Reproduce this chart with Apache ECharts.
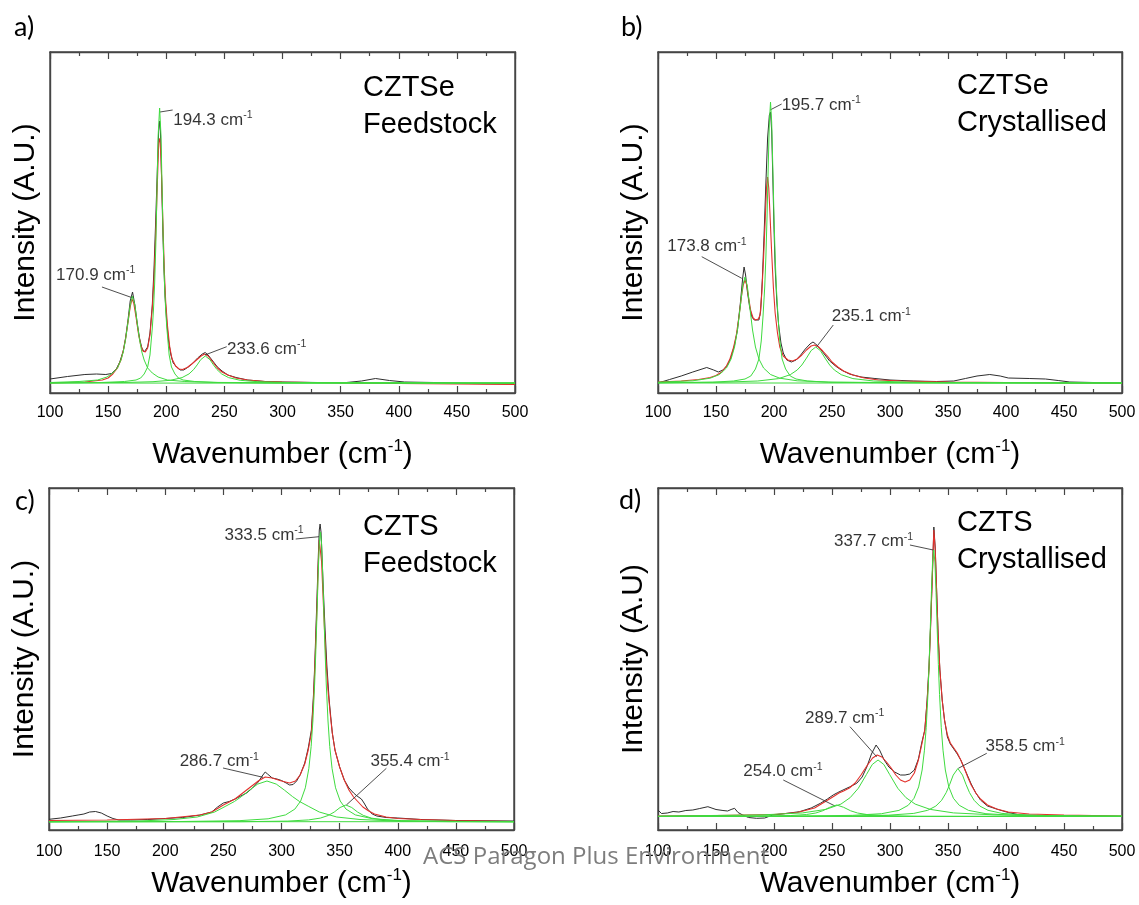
<!DOCTYPE html>
<html><head><meta charset="utf-8">
<script src="https://cdn.jsdelivr.net/npm/echarts/dist/echarts.min.js"></script>
<style>html,body{margin:0;padding:0;background:#fff}#c{width:1139px;height:905px}</style>
</head><body><div id="c"></div>
<script>
// ---------------- DATA (intensity in arbitrary units, x in cm^-1) ----------------
const xTicks = [100, 150, 200, 250, 300, 350, 400, 450, 500];

// Panel a) CZTSe Feedstock
const aBlack = [[100,14],[115,16.5],[130,18.5],[140,19],[148,18.5],[153,19.5],[157,24],[160,31],[163,42],[165,55],[167,72],[169,92],[171,101],[172,100],[173,88],[175,70],[177,55],[179,45],[181,41],[182.5,42],[184,46],[186,60],[188,88],[189.5,125],[191,175],[192.5,230],[193.5,262],[194.3,272],[195,262],[196,215],[197,165],[198,125],[199,96],[200.5,70],[202,52],[204,38],[206,30],[209,26],[212,23],[215,23],[219,26],[223,30],[227,35],[231,39],[233.5,40.5],[236,38],[240,32],[244,26],[248,22],[253,18],[260,15.5],[270,13],[285,11.5],[300,11],[330,10.5],[355,10.5],[368,12],[380,14.5],[392,12.5],[405,11],[430,10.5],[460,9.5],[500,9]];
const aRed = [[100,10],[130,11],[145,13],[150,15],[154,19],[158,25],[161,33],[163,42],[165,54],[167,70],[169,86],[170.5,94],[172,90],[174,76],[176,60],[178,48],[180,42],[182,41],[184,45],[186,58],[188,85],[189.5,115],[191,160],[192.5,215],[193.5,250],[194.5,255],[195.5,235],[196.5,195],[197.5,155],[198.5,118],[199.5,92],[201,68],[203,46],[205,34],[208,27],[211,24],[214,23.5],[218,25.5],[222,29],[226,33],[230,37],[233,39],[236,37],[240,31],[244,25],[248,21],[253,18],[260,15],[270,13],[285,11.5],[300,11],[350,10],[400,9.5],[450,9],[500,8.5]];
const aFit1 = [[100,10.5],[125,11.5],[141,13],[149,16],[154,20],[158,25],[161,33],[163,41],[165,53.5],[167,70],[169,88],[170.9,97],[173,88],[175,70],[177,53.5],[179,41],[181,33],[184,25],[188,20],[193,16],[201,13],[216,11.5],[241,10.6],[300,10.2],[500,10]];
const aFit2 = [[100,10],[144,10.5],[164,11.5],[174,13],[178,15],[181,19],[184,26],[186,38],[188,65],[189,83],[190,109],[191,147],[192,200],[193,257],[194.3,285],[195.5,257],[196.5,200],[197.5,147],[198.5,109],[199.5,83],[200.5,65],[202.5,38],[204.5,26],[207.5,19],[210.5,15],[214.5,13],[224.5,11.5],[244.5,10.5],[300,10],[500,10]];
const aFit3 = [[100,10.2],[163.6,10.5],[188.6,11.3],[203.6,12.7],[213.6,15.4],[219.6,19.1],[223.6,23.5],[226.6,28.1],[229.6,33.3],[233.6,37],[237.6,33.3],[240.6,28.1],[243.6,23.5],[247.6,19.1],[253.6,15.4],[263.6,12.7],[278.6,11.3],[303.6,10.5],[500,10.1]];
const aBase = [[100,10],[500,9.7]];
const aPeaks = ['170.9', '194.3', '233.6'];

// Panel b) CZTSe Crystallised
const bBlack = [[100,10],[110,13.5],[120,17],[130,21],[142,25.5],[148,23],[152,21],[156,23],[160,28],[163,36],[166,48],[168.5,63],[171,90],[173,115],[174.2,126],[175.5,118],[177,102],[179,86],[181,76],[183,73],[187,73],[188.5,82],[190,115],[191.5,160],[193,210],[194.5,255],[196,278],[197,281],[198,262],[199,215],[200,165],[201,125],[202.5,90],[204,68],[206,50],[208,40],[211,33],[215,31],[219,33],[223,38],[227,44],[231,49],[233.6,51],[236,49],[240,44],[244,38],[248,32],[253,27],[258,23],[265,19],[275,16],[287,14.5],[300,13],[320,12],[340,11.5],[355,12],[365,14.5],[375,17],[386,18.5],[395,17],[402,15],[420,14.5],[434,14],[445,12.5],[455,11],[475,10.5],[500,10]];
const bRed = [[100,11],[120,12],[135,13.5],[145,15.5],[150,17.5],[155,21],[159,27],[162,34],[165,45],[167.5,58],[170,78],[172,97],[173.5,108],[175,113],[176.5,108],[178,96],[180,82],[182,75],[184,73],[186.5,74],[188,78],[189.5,100],[191,135],[192.5,175],[193.5,205],[194.5,216],[195.5,205],[196.5,180],[198,140],[199.5,105],[201,80],[203,60],[205,46],[208,37],[212,33],[216,32],[220,34],[224,38],[228,43],[232,47],[235,48],[238,46.5],[242,42],[246,37],[250,31],[255,26],[260,22],[268,18],[278,15],[290,13],[310,12],[350,11],[400,10.5],[450,10],[500,9.5]];
const bFit1 = [[100,10.8],[130,12.2],[145,14.8],[153,18.5],[159,25],[163,34],[166,46],[168.5,63],[171,87],[173,107],[175,116],[177,107],[179,87],[181.5,63],[184,46],[187,34],[191,25],[197,18.5],[205,14.8],[220,12.2],[250,10.8],[350,10.2],[500,10]];
const bFit2 = [[100,10.2],[147,10.8],[165,12],[175,14],[180,17],[184,24],[187,34],[189,52],[190.5,76],[192,106],[193,136],[194,176],[195,225],[196,271],[197,291],[198,271],[199,225],[200,176],[201,136],[202,106],[203.5,76],[205,52],[207,34],[210,24],[214,17],[219,14],[229,12],[247,10.8],[297,10.2],[500,10]];
const bFit3 = [[100,10.3],[156,10.8],[186,12],[204,14.4],[214,18.3],[220,23],[224,28],[228,34.9],[232,42.4],[236,46],[240,42.4],[244,34.9],[248,28],[252,23],[258,18.3],[268,14.4],[286,12],[316,10.8],[366,10.3],[500,10]];
const bBase = [[100,10],[500,10]];
const bPeaks = ['173.8', '195.7', '235.1'];

// Panel c) CZTS Feedstock
const cBlack = [[100,10.7],[110,12],[120,14],[125,15],[130,16],[135,18],[140,18.5],[145,17],[150,14],[155,11.5],[160,10],[170,10],[185,10.5],[200,11.5],[215,12.5],[230,15],[240,18],[245,23],[250,27],[255,28.5],[260,31],[265,34],[270,37],[275,42],[280,48],[284,55],[286,58],[288,56],[292,52],[296,51],[300,49.5],[304,47],[307,45],[310,45.5],[313,49],[316,55],[320,67],[323,82],[325.7,100],[327.5,135],[328.6,165],[330.6,235],[331.7,275],[332.5,300],[333.2,306],[334,298],[335,270],[336,240],[337.5,200],[339,165],[341,130],[343.7,97],[346,80],[350,63],[354,50],[358,42],[362,37],[365,34],[368.7,31],[371,27],[374,21],[378,16],[382,14],[390,12.5],[400,12],[420,10.5],[450,9.5],[500,9]];
const cRed = [[100,9.5],[150,10],[200,11.5],[230,15],[240,18],[250,25],[260,31],[270,40],[280,49],[286,53],[292,52],[300,49],[307,47],[312,49],[316,55],[320,66],[323,80],[325.7,97],[327.5,130],[328.6,160],[330.6,225],[331.5,262],[332.5,290],[333.5,288],[334.5,268],[335.5,240],[337,200],[338.5,165],[340,140],[342,115],[343.7,97],[346,80],[350,63],[354,50],[358,40],[362,33],[366,28],[370,23],[375,19],[380,16],[390,13],[400,11.5],[420,10.5],[450,9.5],[500,8.5]];
const cFit1 = [[100,8.2],[177.5,9],[207.5,10.5],[227.5,13],[242.5,18],[251.5,23.5],[259.5,28.5],[265.5,33.4],[272.5,39.9],[279.5,45.9],[287.5,49],[295.5,45.9],[302.5,39.9],[309.5,33.4],[315.5,28.5],[323.5,23.5],[332.5,18],[347.5,13],[367.5,10.5],[397.5,9],[500,8.2]];
const cFit2 = [[100,8.2],[213.5,8.5],[263.5,9.3],[288.5,11.2],[303.5,15.1],[311.5,20.9],[316.5,29],[320.5,42.2],[323.5,61.4],[325.5,83.5],[327,109],[328.5,146],[329.5,178],[330.5,215],[331.5,254],[332.5,286],[333.5,298],[334.5,286],[335.5,254],[336.5,215],[337.5,178],[338.5,146],[340,109],[341.5,83.5],[343.5,61.4],[346.5,42.2],[350.5,29],[355.5,20.9],[363.5,15.1],[378.5,11.2],[403.5,9.3],[453.5,8.5],[500,8.3]];
const cFit3 = [[100,8.2],[265.4,8.3],[305.4,8.9],[323.4,10.1],[333.4,11.9],[340.4,14.6],[345.4,18],[350.4,22.5],[355.4,25],[360.4,22.5],[365.4,18],[370.4,14.6],[377.4,11.9],[387.4,10.1],[405.4,8.9],[445.4,8.3],[500,8.2]];
const cBase = [[100,8.3],[500,8.3]];
const cPeaks = ['286.7', '333.5', '355.4'];

// Panel d) CZTS Crystallised
const dBlack = [[100,20],[103,16.5],[108,17],[113,18.5],[118,18],[124,19.5],[130,20],[136,21.5],[143,23.3],[150,20.5],[156,19.5],[160,19],[163,20.5],[166,21.7],[169,17.5],[173,15],[178,12.5],[185,11.7],[192,12],[199,15],[210,16.5],[222,18.3],[232,22],[240,26.7],[246,31],[251,35],[255,37.5],[259.5,40],[265,43],[271.3,46.7],[276,53],[280,63],[284,76],[288,85],[291,80],[295,70],[299,63],[304,58],[309,55],[313,55],[317,56],[321,60],[324.5,71],[327.5,88],[330,100],[332,130],[333.7,165],[335,205],[336.5,255],[337.8,303],[339,282],[340.2,240],[341.5,195],[343,160],[345,130],[347,110],[349.5,93],[352,86],[355,81],[358,76],[361,70],[364,62],[367,54],[370,46],[374,37],[378,30],[384,24],[394.5,20],[402,17.5],[412,15],[430,14.5],[460,14],[500,13.5]];
const dRed = [[100,14],[150,14.5],[200,15.5],[220,17.5],[235,22],[245,29],[252,34],[256,37],[260,39],[265,42],[270,47],[275,55],[280,64],[285,72],[289,75],[293,73],[297,68],[301,62],[305,55],[309,50],[313,48],[317,50],[321,57],[324.5,70],[327.5,86],[330,100],[332,128],[333.7,163],[335,203],[336.5,253],[337.8,300],[339,280],[340.2,238],[341.5,195],[343,160],[345,130],[347,110],[349.5,95],[352,87],[355,82],[358,77],[361,70],[364,62],[367,53],[370,45],[374,37],[378,31],[384,25],[392,21],[402,18],[420,16],[450,15],[500,14]];
const dFit1 = [[100,13.6],[184,13.8],[214,14.45],[228,15.5],[236,17],[242,19.25],[248,22.7],[254,25],[260,22.7],[266,19.25],[272,17],[280,15.5],[294,14.45],[324,13.8],[500,13.6]];
const dFit2 = [[100,13.7],[109.7,14],[189.7,15.1],[224.7,17.1],[244.7,20.6],[257.7,25.9],[265.7,32.4],[272.7,41.75],[279.7,55.5],[284.7,65.5],[289.7,70],[294.7,65.5],[299.7,55.5],[306.7,41.75],[313.7,32.4],[321.7,25.9],[334.7,20.6],[354.7,17.1],[389.7,15.1],[469.7,14],[500,13.9]];
const dFit3 = [[100,13.6],[217.7,13.9],[267.7,14.65],[292.7,16.3],[307.7,19.6],[315.7,24.7],[320.7,31.7],[324.7,43.1],[327.7,60],[329.7,79.8],[331.2,102.3],[332.7,135.5],[333.7,165.3],[334.7,200.5],[335.7,237.5],[336.7,268],[337.7,280],[338.7,268],[339.7,237.5],[340.7,200.5],[341.7,165.3],[342.7,135.5],[344.2,102.3],[345.7,79.8],[347.7,60],[350.7,43.1],[354.7,31.7],[359.7,24.7],[367.7,19.6],[382.7,16.3],[407.7,14.65],[457.7,13.9],[500,13.7]];
const dFit4 = [[100,13.6],[258.5,14],[298.5,14.8],[320.5,16.6],[332.5,19.7],[339.5,23.9],[344.5,29.7],[348.5,37.5],[351.5,45.7],[354.5,54.9],[358.5,61.5],[362.5,54.9],[365.5,45.7],[368.5,37.5],[372.5,29.7],[377.5,23.9],[384.5,19.7],[396.5,16.6],[418.5,14.8],[458.5,14],[500,13.8]];
const dBase = [[100,13.5],[500,13.5]];
const dPeaks = ['254.0', '289.7', '337.7', '358.5'];

const panelLetters = ['a)', 'b)', 'c)', 'd)'];
const sampleNames = ['CZTSe\nFeedstock', 'CZTSe\nCrystallised', 'CZTS\nFeedstock', 'CZTS\nCrystallised'];
const yTitles = ['Intensity (A.U.)', 'Intensity (A.U.)', 'Intensity (A.U.)', 'Intensity (A.U)'];
const xTitle = 'Wavenumber (cm{sup|-1})';
const watermark = 'ACS Paragon Plus Environment';

// ---------------- LAYOUT / STYLE ----------------
const FONT = '"Liberation Sans", Arial, Helvetica, sans-serif';
const COL = { black: '#2e2e2e', red: '#e3312c', green: '#3fdb3f', axis: '#454545', lead: '#3a3a3a' };

const panels = [
  { data: { black: aBlack, red: aRed, fits: [aFit1, aFit2, aFit3], base: aBase, peaks: aPeaks },
    grid: { left: 50, top: 52, width: 465, height: 341 }, labelMargin: 12, nameGap: 45, yGap: 9,
    letterAt: [14, 27], sampleAt: [363, 106.5],
    ann: [ { t: [105.2, 118], l: [[144.7, 106], [171.4, 95]], side: 'right' },
           { t: [206, 273], l: [[194.6, 281], [205.5, 283]], side: 'right' },
           { t: [252.3, 44], l: [[233.3, 38], [252, 46.3]], side: 'right' } ] },
  { data: { black: bBlack, red: bRed, fits: [bFit1, bFit2, bFit3], base: bBase, peaks: bPeaks },
    grid: { left: 658, top: 52, width: 464, height: 341 }, labelMargin: 12, nameGap: 45, yGap: 9,
    letterAt: [621, 27], sampleAt: [957, 104.5],
    ann: [ { t: [108, 146.3], l: [[137.7, 136.3], [172.2, 114.7]], side: 'right' },
           { t: [206.6, 288], l: [[196.6, 283], [206.6, 289]], side: 'right' },
           { t: [249.7, 76.3], l: [[251.1, 68], [236.8, 46.3]], side: 'right' } ] },
  { data: { black: cBlack, red: cRed, fits: [cFit1, cFit2, cFit3], base: cBase, peaks: cPeaks },
    grid: { left: 49, top: 488, width: 465, height: 342 }, labelMargin: 14, nameGap: 37, yGap: 9,
    letterAt: [15, 501], sampleAt: [363, 545],
    ann: [ { t: [212.4, 68.3], l: [[249.7, 62], [284.1, 52.7]], side: 'right' },
           { t: [319.1, 295], l: [[312.2, 291], [332.3, 293.3]], side: 'left' },
           { t: [376.5, 68.3], l: [[390.2, 61.7], [355.8, 25]], side: 'right' } ] },
  { data: { black: dBlack, red: dRed, fits: [dFit1, dFit2, dFit3, dFit4], base: dBase, peaks: dPeaks },
    grid: { left: 658, top: 488, width: 464, height: 342 }, labelMargin: 14, nameGap: 37, yGap: 9,
    letterAt: [619, 500], sampleAt: [957, 541.5],
    ann: [ { t: [173.5, 58.3], l: [[208, 50], [252.6, 24]], side: 'right' },
           { t: [226.7, 111.7], l: [[265.5, 103.3], [288.5, 73.3]], side: 'right' },
           { t: [320, 288.3], l: [[317.2, 285], [337.3, 280]], side: 'left' },
           { t: [382.3, 83.3], l: [[383.4, 76.7], [358.9, 61.7]], side: 'right' } ] }
];

const grids = [], xAxes = [], yAxes = [], series = [], graphics = [];
const axisLineStyle = { color: COL.axis, width: 1.4 };

panels.forEach((p, i) => {
  grids.push(Object.assign({ show: true, borderColor: COL.axis, borderWidth: 1.4, backgroundColor: 'transparent', containLabel: false, outerBoundsMode: 'none' }, p.grid));
  const common = {
    type: 'value', gridIndex: i, min: xTicks[0], max: xTicks[xTicks.length - 1], interval: xTicks[1] - xTicks[0],
    axisLine: { show: true, onZero: false, lineStyle: axisLineStyle },
    axisTick: { show: true, inside: true, length: 7, lineStyle: { color: COL.axis, width: 1.2 } },
    minorTick: { show: true, splitNumber: 2, length: 4, lineStyle: { color: COL.axis, width: 1.2 } },
    splitLine: { show: false }, minorSplitLine: { show: false }
  };
  xAxes.push(Object.assign({}, common, {
    position: 'bottom',
    axisLabel: { show: true, fontFamily: FONT, fontSize: 16, color: '#000', margin: p.labelMargin },
    name: xTitle, nameLocation: 'middle', nameGap: p.nameGap,
    nameTextStyle: { fontFamily: FONT, fontSize: 30, color: '#000',
      rich: { sup: { fontFamily: FONT, fontSize: 17, color: '#000', padding: [0, 0, 17, 0] } } }
  }));
  xAxes.push(Object.assign({}, common, { position: 'top', axisLabel: { show: false } }));
  const yMax = p.grid.height;
  const yCommon = { type: 'value', gridIndex: i, min: 0, max: yMax,
    axisLine: { show: true, onZero: false, lineStyle: axisLineStyle }, axisTick: { show: false },
    axisLabel: { show: false }, splitLine: { show: false } };
  yAxes.push(Object.assign({}, yCommon, { position: 'left', name: yTitles[i], nameLocation: 'middle', nameGap: p.yGap,
    nameTextStyle: { fontFamily: FONT, fontSize: 30, color: '#000' } }));
  yAxes.push(Object.assign({}, yCommon, { position: 'right' }));

  const xi = 2 * i, yi = 2 * i;
  const line = (data, color, z, w) => ({ type: 'line', xAxisIndex: xi, yAxisIndex: yi, data: data,
    showSymbol: false, symbol: 'none', smooth: false, silent: true, animation: false, z: z,
    lineStyle: { color: color, width: w } });
  series.push(line(p.data.black, COL.black, 3, 1));
  series.push(line(p.data.red, COL.red, 4, 1.1));
  series.push(line(p.data.base, COL.green, 5, 1));
  p.data.fits.forEach(f => series.push(line(f, COL.green, 5, 1)));

  // peak annotations
  series.push({
    type: 'scatter', xAxisIndex: xi, yAxisIndex: yi, symbolSize: 0.01, silent: true, animation: false, z: 10,
    data: p.ann.map((a, k) => ({ value: a.t, name: p.data.peaks[k],
      label: { show: true, position: a.side, distance: 0 } })),
    label: { show: true, fontFamily: FONT, fontSize: 17, color: '#000',
      formatter: (q) => q.name + ' cm{sup|-1}',
      rich: { sup: { fontFamily: FONT, fontSize: 10.5, color: '#000', padding: [0, 0, 10, 0] } } },
    markLine: { silent: true, animation: false, symbol: ['none', 'none'], label: { show: false },
      lineStyle: { color: COL.lead, width: 0.9, type: 'solid' }, emphasis: { disabled: true },
      data: p.ann.map(a => [{ coord: a.l[0] }, { coord: a.l[1] }]) }
  });

  graphics.push({ type: 'text', x: p.letterAt[0], y: p.letterAt[1], z: 20,
    style: { text: panelLetters[i], fontFamily: 'Lato, "Open Sans", sans-serif', fontSize: 27, fill: '#000', verticalAlign: 'middle' } });
  graphics.push({ type: 'text', x: p.sampleAt[0], y: p.sampleAt[1], z: 20,
    style: { text: sampleNames[i], fontFamily: FONT, fontSize: 29, lineHeight: 37, fill: '#000', verticalAlign: 'middle' } });
});

graphics.push({ type: 'text', x: 423, y: 857, z: 100,
  style: { text: watermark, fontFamily: '"Open Sans", sans-serif', fontSize: 24, fill: '#7d7d7d', verticalAlign: 'middle' } });

const chart = echarts.init(document.getElementById('c'), null, { renderer: 'canvas' });
chart.setOption({
  animation: false, backgroundColor: '#fff',
  grid: grids, xAxis: xAxes, yAxis: yAxes, series: series, graphic: graphics
});
</script>
</body></html>
